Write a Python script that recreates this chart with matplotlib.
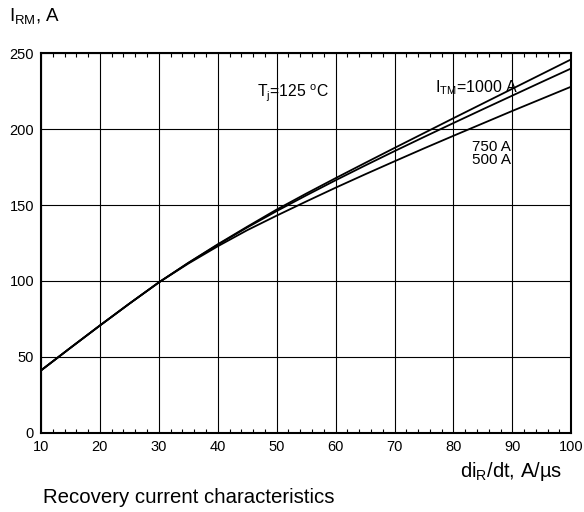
import matplotlib
matplotlib.use("Agg")
import matplotlib.pyplot as plt
from matplotlib.ticker import MultipleLocator

plt.rcParams['font.family'] = ['Liberation Sans', 'DejaVu Sans']
plt.rcParams['mathtext.fontset'] = 'custom'
plt.rcParams['mathtext.rm'] = 'Liberation Sans'

# di/dt values (A/us)
didt = [10, 15, 20, 25, 30, 35, 40, 45, 50, 55, 60, 65, 70, 75, 80, 85, 90, 95, 100]
# recovery current (A) for each I_TM
irm_1000 = [41, 55.9, 70.6, 85.0, 99, 111.9, 124.1, 135.7, 147, 157.5, 167.7,
            177.7, 187.6, 197.4, 207.2, 216.9, 226.6, 236.3, 246]
irm_750 = [41, 55.9, 70.6, 85.0, 99, 111.8, 123.8, 135.2, 146, 156.3, 166.3,
           176, 185.5, 194.8, 204, 213.1, 222.1, 231.1, 240]
irm_500 = [41, 55.9, 70.6, 85.0, 99, 111.4, 122.8, 133.4, 143, 152.3, 161.4,
           170.2, 178.8, 187.3, 195.6, 203.8, 212, 220, 228]

fig = plt.figure(figsize=(5.84, 5.12), dpi=100)
ax = fig.add_axes([0.0702, 0.155, 0.908, 0.741])

for ys in (irm_1000, irm_750, irm_500):
    ax.plot(didt, ys, color='black', lw=1.3)

ax.set_xlim(10, 100)
ax.set_ylim(0, 250)
ax.set_xticks(range(10, 101, 10))
ax.set_yticks(range(0, 251, 50))
ax.xaxis.set_minor_locator(MultipleLocator(2))
ax.grid(True, which='major', color='black', lw=0.8)
ax.tick_params(which='major', length=0, labelsize=10.5, pad=5)
ax.tick_params(which='minor', axis='x', direction='in', length=3,
               top=True, bottom=True, width=0.8)
for s in ax.spines.values():
    s.set_linewidth(1.5)

ax.text(76.9, 224.2, r'I$_{\mathrm{TM}}$=1000 A', fontsize=11.5)
ax.text(83.2, 185.8, '750 A', fontsize=11)
ax.text(83.2, 176.8, '500 A', fontsize=11)
ax.text(46.6, 220.9, r'T$_{\mathrm{j}}$=125 $^{\mathrm{o}}$C', fontsize=11.3)

fig.text(0.015, 0.957, r'I$_{\mathrm{RM}}$, A', fontsize=13.5)
fig.text(0.787, 0.068, r'di$_{\mathrm{R}}$/dt, A/µs', fontsize=14.5)
fig.text(0.073, 0.018, 'Recovery current characteristics', fontsize=14.7)

fig.savefig('out.png', dpi=100)
